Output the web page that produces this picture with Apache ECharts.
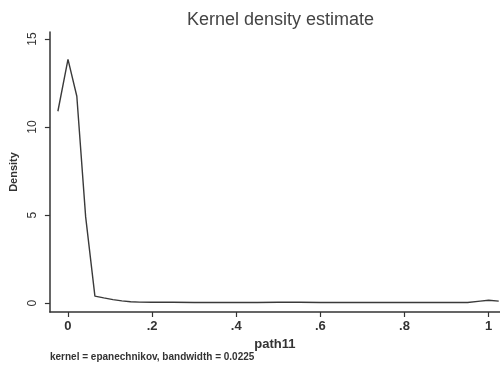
<!DOCTYPE html>
<html>
<head>
<meta charset="utf-8">
<script src="https://cdn.jsdelivr.net/npm/echarts@6/dist/echarts.min.js"></script>
<style>
    html, body { margin: 0; padding: 0; background: #fff; }
    #chart { width: 500px; height: 367px; }
</style>
</head>
<body>
<div id="chart"></div>
<script>
    // kdensity of path11
    var pathX = [-0.024, 0.0, 0.021, 0.042, 0.064, 0.085, 0.107, 0.128, 0.149, 0.17, 0.2, 0.25, 0.3, 0.35, 0.4,
        0.45, 0.5, 0.55, 0.6, 0.65, 0.7, 0.75, 0.8, 0.85, 0.9, 0.95, 0.98, 1.0, 1.024];
    var density = [10.9, 13.85, 11.75, 4.9, 0.4, 0.3, 0.2, 0.13, 0.08, 0.06, 0.05, 0.05, 0.04, 0.04, 0.04,
        0.04, 0.05, 0.05, 0.04, 0.04, 0.04, 0.04, 0.04, 0.04, 0.04, 0.04, 0.12, 0.17, 0.12];
    var xTicks = [0, 0.2, 0.4, 0.6, 0.8, 1];
    var yTicks = [0, 5, 10, 15];

    var chart = echarts.init(document.getElementById('chart'));
    var ink = '#333';
    var option = {
        animation: false,
        title: {
            text: 'Kernel density estimate',
            left: 182,
            top: 6,
            textStyle: { fontFamily: 'Liberation Sans', fontSize: 18, fontWeight: 'normal', color: '#444' }
        },
        grid: { left: 48, right: 0, top: 32, bottom: 55 },
        xAxis: {
            type: 'value',
            min: -0.043,
            max: 1.027,
            name: 'path11',
            nameLocation: 'middle',
            nameGap: 22,
            nameTextStyle: { fontFamily: 'Liberation Sans', fontSize: 13, fontWeight: 'bold', color: ink },
            axisLine: { show: true, onZero: false, lineStyle: { color: ink, width: 1.5 } },
            axisTick: { show: true, length: 5, customValues: xTicks, lineStyle: { color: ink, width: 1.2 } },
            axisLabel: {
                customValues: xTicks,
                margin: 8,
                fontFamily: 'Liberation Sans', fontSize: 13, fontWeight: 'bold', color: ink,
                formatter: function (v) {
                    if (v === 0) return '0';
                    if (v === 1) return '1';
                    return String(v).replace('0.', '.');
                }
            },
            splitLine: { show: false }
        },
        yAxis: {
            type: 'value',
            min: -0.5,
            max: 15.4,
            name: 'Density',
            nameLocation: 'middle',
            nameRotate: 90,
            nameGap: 30,
            nameTextStyle: { fontFamily: 'Liberation Sans', fontSize: 11, fontWeight: 'bold', color: ink },
            axisLine: { show: true, onZero: false, lineStyle: { color: ink, width: 1.5 } },
            axisTick: { show: true, length: 5, customValues: yTicks, lineStyle: { color: ink, width: 1.2 } },
            axisLabel: {
                customValues: yTicks,
                rotate: 90,
                margin: 11,
                fontFamily: 'Liberation Sans', fontSize: 12, color: ink
            },
            splitLine: { show: false }
        },
        graphic: [{
            type: 'text',
            left: 50,
            top: 352,
            style: {
                text: 'kernel = epanechnikov, bandwidth = 0.0225',
                fontFamily: 'Liberation Sans', fontSize: 10, fontWeight: 'bold', fill: ink
            }
        }],
        series: [{
            type: 'line',
            data: pathX.map(function (x, i) { return [x, density[i]]; }),
            showSymbol: false,
            lineStyle: { color: '#3a3a3a', width: 1.4 }
        }]
    };
    chart.setOption(option);
</script>
</body>
</html>
